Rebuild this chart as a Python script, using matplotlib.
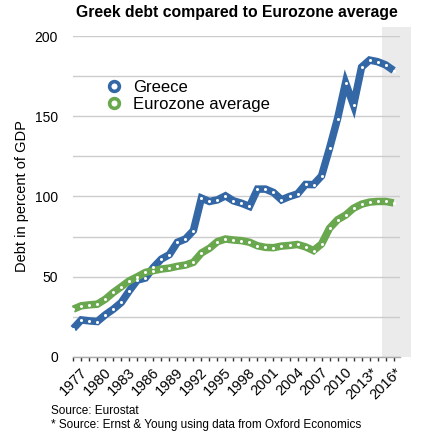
import matplotlib.pyplot as plt
from matplotlib.lines import Line2D
from matplotlib.patches import Rectangle
import numpy as np

plt.rcParams['font.family'] = ['Liberation Sans', 'DejaVu Sans']

years = list(range(1977, 2018))
greece = [17.7, 23.1, 22.5, 22.1, 26.3, 29.8, 34.0, 41.3, 47.9, 49.2,
          55.8, 61.0, 63.8, 71.5, 73.5, 78.8, 99.0, 96.9, 97.9, 100.4,
          97.3, 95.8, 93.8, 104.6, 104.6, 102.5, 97.9, 100.0, 101.6, 107.5,
          107.4, 112.8, 130.0, 148.5, 170.8, 156.9, 180.6, 185.0, 184.0, 182.0,
          178.5]
eurozone = [29.8, 31.9, 32.5, 32.9, 36.0, 40.2, 43.8, 47.5, 50.0, 52.7,
            53.8, 54.8, 55.4, 56.5, 57.3, 59.0, 64.8, 67.7, 71.9, 73.5,
            72.9, 72.5, 71.5, 69.3, 68.3, 68.1, 69.1, 69.5, 70.1, 68.6,
            66.3, 70.4, 80.2, 85.5, 88.4, 92.7, 95.2, 96.5, 96.9, 96.9,
            96.0]
label_years = list(range(1977, 2017, 3))
label_text = [str(y) + ('*' if y >= 2013 else '') for y in label_years]
forecast_start = 2015.6

blue = '#3367a6'
green = '#6aa84f'

fig = plt.figure(figsize=(4.24, 4.45), dpi=100)
ax = fig.add_axes([0.1729, 0.1978, 0.9434 - 0.1729, 0.9191 - 0.1978])

ax.set_xlim(1977, 2017.8)
ax.set_ylim(0, 200)

# shaded forecast band, sticks out a bit past the plot area
ax.add_patch(Rectangle((forecast_start, 0), 2019.2 - forecast_start, 205.6,
                       facecolor='#ebebeb', edgecolor='none', zorder=0.1,
                       clip_on=False))

for vals, col in [(greece, blue), (eurozone, green)]:
    ax.plot(years, vals, color=col, lw=5.4, solid_joinstyle='miter',
            solid_capstyle='butt', zorder=3, clip_on=False)
    ax.plot(years, vals, ls='none', marker='o', ms=2.2, mfc='white',
            mec='none', zorder=4, clip_on=False)

ax.set_yticks(np.arange(0, 201, 50))
ax.set_yticks(np.arange(25, 200, 50), minor=True)
ax.grid(axis='y', which='both', color='#cccccc', lw=1)
ax.set_axisbelow(True)
ax.tick_params(axis='y', which='both', length=0, pad=11, labelsize=10)

ax.set_xticks(label_years)
ax.set_xticklabels(label_text, rotation=45, ha='center', fontsize=10.5)
ax.set_xticks(years, minor=True)
ax.tick_params(axis='x', which='both', length=3, width=1, color='#333333',
               direction='out', pad=3)

for s in ['top', 'right', 'left']:
    ax.spines[s].set_visible(False)
ax.spines['bottom'].set_color('#aaaaaa')
ax.spines['bottom'].set_linewidth(1)

ax.set_ylabel('Debt in percent of GDP', fontsize=10.5, labelpad=4)
fig.text(0.558, 0.971, 'Greek debt compared to Eurozone average',
         ha='center', va='center', fontsize=11.3, fontweight='bold')

handles = [Line2D([], [], ls='none', marker='o', ms=7, mfc='white', mec=blue,
                  mew=2.6),
           Line2D([], [], ls='none', marker='o', ms=7, mfc='white', mec=green,
                  mew=2.6)]
ax.legend(handles, ['Greece', 'Eurozone average'], loc='upper left',
          bbox_to_anchor=(0.075, 0.885), frameon=False, fontsize=12,
          handletextpad=0.5, labelspacing=0.15, handlelength=1.2,
          borderaxespad=0)

fig.text(0.12, 0.076, 'Source: Eurostat', fontsize=8.5, va='center')
fig.text(0.12, 0.046, '* Source: Ernst & Young using data from Oxford Economics',
         fontsize=8.5, va='center')

fig.savefig('out.png', dpi=100)
